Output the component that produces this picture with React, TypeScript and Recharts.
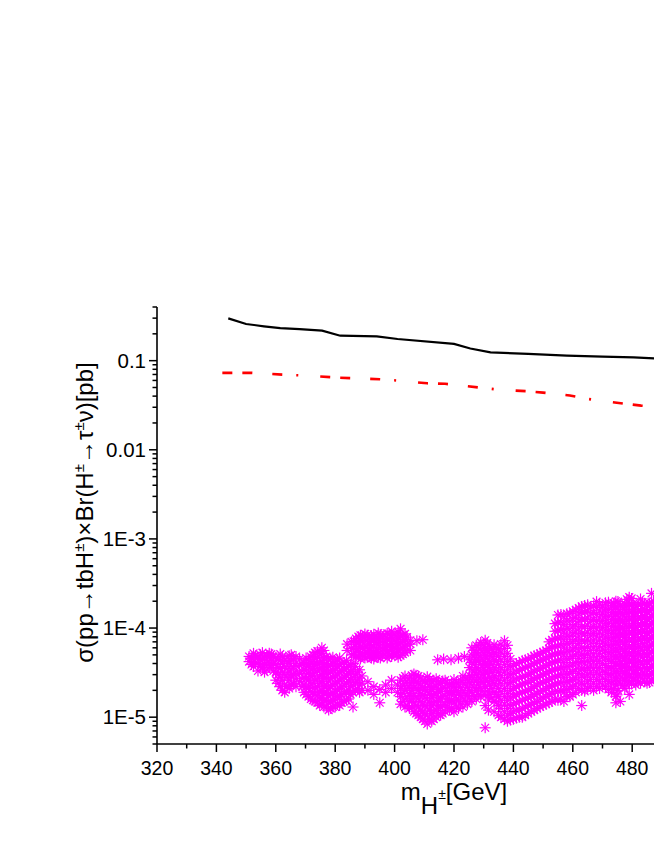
import { ComposedChart, Line, Scatter, XAxis, YAxis } from 'recharts';

const FONT = '"Liberation Sans", Arial, sans-serif';
const MAGENTA = '#ff00ff';

const massTicks = [320, 330, 340, 350, 360, 370, 380, 390, 400, 410, 420, 430, 440, 450, 460, 470, 480, 490, 500, 510, 520];
const massLabelled = [320, 340, 360, 380, 400, 420, 440, 460, 480];
const sigmaMajor = [1e-5, 1e-4, 1e-3, 0.01, 0.1];
const sigmaTicks = [
  5e-6, 6e-6, 7e-6, 8e-6, 9e-6,
  1e-5, 2e-5, 3e-5, 4e-5, 5e-5, 6e-5, 7e-5, 8e-5, 9e-5,
  1e-4, 2e-4, 3e-4, 4e-4, 5e-4, 6e-4, 7e-4, 8e-4, 9e-4,
  1e-3, 2e-3, 3e-3, 4e-3, 5e-3, 6e-3, 7e-3, 8e-3, 9e-3,
  0.01, 0.02, 0.03, 0.04, 0.05, 0.06, 0.07, 0.08, 0.09,
  0.1, 0.2, 0.3, 0.4,
];

// limit curves: [mass GeV, sigma pb]
const solidLimit = [
  [344, 0.298], [350, 0.258], [356, 0.243], [361.5, 0.232], [368, 0.226], [375.6, 0.217],
  [381.7, 0.1905], [394, 0.187], [401, 0.175], [420, 0.154], [425.5, 0.137], [432.3, 0.124],
  [445, 0.119], [458, 0.114], [470, 0.111], [480.5, 0.109], [490, 0.105], [500, 0.103],
];
const dashLimit = [
  [342, 0.073], [352, 0.073], [364, 0.0692], [370, 0.068], [381, 0.0645], [395, 0.0618],
  [402, 0.0595], [411, 0.0557], [417, 0.055], [428, 0.0502], [435, 0.0473], [445, 0.0453],
  [450, 0.0438], [459, 0.0406], [465, 0.0372], [478, 0.0327], [483, 0.0313], [490, 0.0298],
];

// scan points: [mass GeV, sigma values in units of 1E-5 pb]
const cloudA = [
  [351, [4.2, 4.8]], [351.8, [3.9, 4.6]],
  [352.5, [3.7, 4.5, 5.2]], [353.2, [4.1, 4.9]],
  [354, [3.3, 4.0, 4.7]], [354.8, [3.7, 4.4, 5.0]],
  [355.5, [3.6, 4.4, 5.3]], [356.2, [3.2, 3.9, 4.6]],
  [357, [3.4, 4.1, 4.9]], [357.8, [3.6, 4.3, 5.2]],
  [358.5, [3.8, 4.6, 5.1]], [359.2, [3.3, 4.0, 4.8]],
  [360, [2.6, 3.2, 3.9, 4.7]], [360.8, [2.4, 3.0, 3.6, 4.4]],
  [361.5, [2.2, 2.8, 3.5, 4.3, 5.1]], [362.2, [2.0, 2.6, 3.2, 4.0, 4.8]],
  [363, [1.9, 2.3, 3.0, 3.7, 4.5]], [363.8, [2.2, 2.8, 3.5, 4.2]],
  [364.5, [2.1, 2.6, 3.2, 4.0, 4.9]], [365.2, [2.3, 2.9, 3.5, 4.3, 5.0]],
  [366, [2.4, 3.0, 3.7, 4.5]], [366.8, [2.2, 2.7, 3.3, 4.0, 4.8]],
];
const cloudCore = [
  [368, [2.5, 3.1, 3.8, 4.5]], [368.8, [2.2, 2.7, 3.3, 4.0]],
  [369.5, [1.9, 2.3, 2.8, 3.4, 4.1]], [370.2, [1.8, 2.2, 2.7, 3.3, 3.9, 4.6]],
  [371, [1.7, 2.1, 2.6, 3.1, 3.7, 4.4]], [371.8, [1.6, 1.95, 2.35, 2.85, 3.4, 4.0, 4.8]],
  [372.5, [1.55, 1.9, 2.4, 2.9, 3.5, 4.2, 5.0]], [373.2, [1.5, 1.8, 2.15, 2.6, 3.15, 3.75, 4.5, 5.3]],
  [374, [1.45, 1.75, 2.2, 2.7, 3.3, 3.9, 4.7, 5.5]], [374.8, [1.35, 1.6, 1.95, 2.4, 2.9, 3.5, 4.1, 5.0]],
  [375.5, [1.4, 1.65, 2.0, 2.5, 3.0, 3.6, 4.3, 5.2, 6.0]], [376.2, [1.3, 1.55, 1.85, 2.25, 2.75, 3.3, 3.9, 4.6, 5.6]],
  [377, [1.3, 1.55, 1.9, 2.3, 2.8, 3.4, 4.0, 4.8]], [377.8, [1.2, 1.45, 1.75, 2.1, 2.55, 3.1, 3.7, 4.4]],
  [378.5, [1.25, 1.5, 1.8, 2.2, 2.7, 3.2, 3.8, 4.5]], [379.2, [1.3, 1.55, 1.85, 2.3, 2.8, 3.35, 4.0, 4.7]],
  [380, [1.3, 1.6, 1.95, 2.4, 2.9, 3.5, 4.2]], [380.8, [1.4, 1.7, 2.05, 2.5, 3.05, 3.7, 4.4]],
  [381.5, [1.35, 1.7, 2.1, 2.6, 3.2, 3.9, 4.6]], [382.2, [1.45, 1.8, 2.2, 2.7, 3.3, 4.0]],
  [383, [1.5, 1.85, 2.3, 2.8, 3.4, 4.1]], [383.8, [1.55, 1.95, 2.4, 2.95, 3.6, 4.3]],
  [384.5, [1.6, 2.0, 2.5, 3.1, 3.7]], [385.2, [1.8, 2.2, 2.65, 3.25, 3.9]],
  [386, [1.3, 1.9, 2.3, 2.8, 3.4, 4.0]], [386.8, [2.0, 2.45, 3.0, 3.7]],
  [387.5, [2.1, 2.6, 3.2]], [388.2, [1.9, 2.3, 2.75, 3.4]],
  [389, [2.0, 2.4, 2.9]],
  [391, [2.0, 2.5]],
  [393, [1.8, 2.2]],
  [395, [1.45, 2.05]],
  [397, [1.9, 2.3]],
  [399, [2.1, 2.6]],
  [401, [1.9, 2.3]],
];
const cloudUpper = [
  [384, [5.6, 6.6]],
  [385.5, [5.0, 5.9, 7.0]], [386.2, [5.1, 6.0, 7.1]],
  [387, [4.7, 5.5, 6.5, 7.6]], [387.8, [4.8, 5.8, 6.9, 8.0]],
  [388.5, [4.5, 5.3, 6.2, 7.3, 8.3]], [389.2, [5.0, 5.9, 7.0, 8.1]],
  [390, [4.6, 5.4, 6.4, 7.5, 8.6]], [390.8, [4.7, 5.2, 6.1, 7.2, 8.3]],
  [391.5, [4.8, 5.6, 6.6, 7.8]], [392.2, [4.6, 5.1, 6.0, 7.1, 8.2]],
  [393, [4.5, 5.3, 6.3, 7.4, 8.5]], [393.8, [4.9, 5.8, 6.9, 8.1]],
  [394.5, [4.7, 5.5, 6.5, 7.6, 8.8]], [395.2, [4.6, 5.2, 6.1, 7.2, 8.4]],
  [396, [4.9, 5.8, 6.8, 8.0]], [396.8, [5.1, 6.0, 7.1, 8.4]],
  [397.5, [4.6, 5.4, 6.4, 7.5, 8.7]], [398.2, [4.9, 5.6, 6.2, 7.3, 8.5]],
  [399, [4.8, 5.7, 6.7, 7.9, 9.2]], [399.8, [5.2, 6.1, 7.3, 8.6]],
  [400.5, [5.0, 5.9, 7.0, 8.2]], [401.2, [4.7, 5.5, 6.5, 7.7, 9.0]],
  [402, [4.9, 5.8, 6.9, 8.1, 9.8]], [402.8, [5.1, 6.0, 7.1, 8.4]],
  [403.5, [5.3, 6.3, 7.4, 8.6]], [404.2, [5.6, 6.6, 7.9]],
  [405.3, [5.6, 6.6, 7.3]],
  [407.5, [7.2]],
  [409.5, [7.4]],
  [414.5, [4.4]],
  [416.5, [4.5]],
  [419, [4.4]],
  [421.5, [4.6]],
  [423.5, [4.8]],
];
const cloudLow = [
  [402, [1.4, 1.7, 2.1, 2.6]], [402.8, [1.5, 1.85, 2.25, 2.75]],
  [403.5, [1.3, 1.6, 2.0, 2.4, 2.9]], [404.2, [1.35, 1.7, 2.1, 2.55]],
  [405, [1.25, 1.5, 1.85, 2.25, 2.75]], [405.8, [1.3, 1.6, 2.0, 2.45, 2.95]],
  [406.5, [1.15, 1.45, 1.75, 2.15, 2.6, 3.05]], [407.2, [1.1, 1.35, 1.7, 2.1, 2.5, 2.95]],
  [408, [1.05, 1.3, 1.6, 2.0, 2.4, 2.9]], [408.8, [1.0, 1.2, 1.5, 1.85, 2.25, 2.75]],
  [409.5, [0.95, 1.15, 1.4, 1.75, 2.15, 2.6]], [410.2, [0.9, 1.1, 1.35, 1.65, 2.05, 2.5]],
  [411, [0.84, 1.05, 1.3, 1.6, 1.95, 2.4, 2.85]], [411.8, [0.95, 1.2, 1.45, 1.8, 2.2, 2.65]],
  [412.5, [0.9, 1.1, 1.35, 1.65, 2.05, 2.5]], [413.2, [0.95, 1.15, 1.4, 1.75, 2.15, 2.6]],
  [414, [1.0, 1.2, 1.5, 1.85, 2.25, 2.7]], [414.8, [1.1, 1.35, 1.65, 2.05, 2.5]],
  [415.5, [1.05, 1.3, 1.6, 1.95, 2.4]], [416.2, [1.1, 1.35, 1.7, 2.1, 2.55]],
  [417, [1.15, 1.4, 1.75, 2.15, 2.6]], [417.8, [1.3, 1.6, 1.95, 2.4]],
  [418.5, [1.2, 1.5, 1.85, 2.3]], [419.2, [1.25, 1.55, 1.95, 2.4]],
  [420, [1.15, 1.45, 1.8, 2.2, 2.65]], [420.8, [1.3, 1.6, 2.0, 2.45]],
  [421.5, [1.25, 1.55, 1.9, 2.35]], [422.2, [1.4, 1.75, 2.15, 2.6]],
  [423, [1.3, 1.65, 2.0, 2.45, 2.9]], [423.8, [1.5, 1.85, 2.3, 2.75]],
  [424.5, [1.4, 1.75, 2.15, 2.6]], [425.2, [1.6, 2.0, 2.45, 2.95, 3.6, 4.4]],
  [426, [1.5, 1.9, 2.3, 2.8, 3.4, 4.1, 5.0, 6.0]], [426.8, [1.7, 2.15, 2.65, 3.2, 3.9, 4.7, 5.6]],
  [427.5, [1.6, 2.0, 2.5, 3.0, 3.6, 4.4, 5.3, 6.4]], [428.2, [1.8, 2.3, 2.8, 3.4, 4.2, 5.0, 6.1]],
  [429, [1.7, 2.1, 2.6, 3.2, 3.9, 4.7, 5.7, 6.9]], [429.8, [1.95, 2.45, 3.0, 3.6, 4.4, 5.3, 6.5]],
  [430.5, [0.76, 1.35, 1.75, 2.2, 2.7, 3.3, 4.0, 4.9, 5.9, 7.3]], [431.2, [1.95, 2.5, 3.1, 3.8, 4.6, 5.6, 6.8]],
  [431.6, [1.2, 1.56]],
  [432, [1.8, 2.3, 2.8, 3.4, 4.2, 5.1, 6.2]], [432.8, [1.65, 2.1, 2.6, 3.2, 3.9, 4.8, 5.8]],
  [433.5, [1.15, 1.5, 1.9, 2.4, 2.9, 3.6, 4.4, 5.3, 6.5]], [434.2, [1.45, 1.8, 2.25, 2.75, 3.4, 4.2, 5.1, 6.1]],
  [435, [1.05, 1.35, 1.7, 2.1, 2.6, 3.2, 3.9, 4.8, 5.8]], [435.8, [1.0, 1.25, 1.55, 1.95, 2.4, 2.95, 3.6, 4.4, 5.4, 6.6]],
];
const cloudBand = [
  [437, [0.95, 1.15, 1.4, 1.7, 2.1, 2.6, 3.2, 3.9, 4.8, 5.9, 7.2]],
  [438, [0.9, 1.05, 1.25, 1.55, 1.85, 2.3, 2.8, 3.45, 4.2, 5.2, 6.4]],
  [439, [0.93, 1.1, 1.35, 1.65, 2.0, 2.45, 3.0, 3.7, 4.5]],
  [440, [0.95, 1.15, 1.4, 1.7, 2.1, 2.55, 3.1, 3.8]],
  [441, [0.98, 1.2, 1.45, 1.8, 2.2, 2.7, 3.3, 4.0]],
  [442, [1.0, 1.2, 1.5, 1.85, 2.25, 2.75, 3.35, 4.1]],
  [443, [1.0, 1.25, 1.55, 1.9, 2.35, 2.85, 3.5, 4.3]],
  [444, [1.05, 1.3, 1.6, 1.95, 2.4, 2.9, 3.6, 4.4]],
  [445, [1.1, 1.35, 1.65, 2.0, 2.45, 3.0, 3.7, 4.5]],
  [446, [1.15, 1.4, 1.7, 2.1, 2.6, 3.15, 3.85, 4.7]],
  [447, [1.2, 1.45, 1.8, 2.2, 2.7, 3.3, 4.0, 4.9]],
  [448, [1.25, 1.5, 1.85, 2.3, 2.8, 3.4, 4.15, 5.0]],
  [449, [1.3, 1.6, 1.95, 2.4, 2.9, 3.5, 4.3, 5.2]],
  [450, [1.35, 1.65, 2.0, 2.45, 3.0, 3.65, 4.45, 5.4]],
  [451, [1.4, 1.7, 2.1, 2.55, 3.1, 3.8, 4.6, 5.6]],
  [452, [1.45, 1.8, 2.2, 2.65, 3.25, 3.95, 4.8, 5.9, 7.0]],
  [453, [1.5, 1.85, 2.25, 2.75, 3.35, 4.1, 5.0, 6.1, 7.4]],
  [454, [1.6, 1.95, 2.35, 2.85, 3.45, 4.2, 5.1, 6.2, 7.6, 9.2, 11.2]],
  [455, [1.55, 1.95, 2.4, 2.9, 3.5, 4.3, 5.2, 6.3, 7.7, 9.4, 11.5, 14.0]],
  [456, [1.6, 2.0, 2.45, 3.0, 3.6, 4.4, 5.3, 6.5, 7.9, 9.6, 11.7, 14.2]],
  [457, [1.5, 1.9, 2.3, 2.8, 3.4, 4.1, 5.0, 6.1, 7.4, 9.0, 11.0, 13.4]],
  [458, [1.7, 2.05, 2.5, 3.05, 3.7, 4.5, 5.5, 6.7, 8.1, 9.9, 12.0, 14.5]],
  [459, [1.7, 2.1, 2.55, 3.1, 3.75, 4.55, 5.5, 6.7, 8.1, 9.8, 12.0, 14.6]],
  [460, [1.8, 2.2, 2.65, 3.25, 3.95, 4.8, 5.8, 7.1, 8.6, 10.5, 12.7, 15.4]],
  [461, [1.9, 2.3, 2.8, 3.4, 4.1, 5.0, 6.1, 7.4, 9.0, 10.9, 13.2, 16.0]],
];
const cloudRight = [
  [462, [2.1, 2.55, 3.1, 3.75, 4.55, 5.5, 6.7, 8.1, 9.8, 11.9, 14.4, 16.8]],
  [463, [1.35, 2.0, 2.4, 2.9, 3.5, 4.2, 5.0, 6.0, 7.2, 8.7, 10.4, 12.5, 15.0, 17.5]],
  [464, [1.95, 2.3, 2.8, 3.35, 4.05, 4.9, 5.9, 7.1, 8.6, 10.4, 12.6, 15.2, 17.9]],
  [465, [2.1, 2.5, 3.0, 3.6, 4.3, 5.2, 6.2, 7.5, 9.0, 10.8, 13.0, 15.6, 18.2]],
  [466, [2.2, 2.65, 3.2, 3.85, 4.65, 5.6, 6.8, 8.2, 9.9, 11.9, 14.4, 17.2]],
  [467, [2.0, 2.4, 2.9, 3.5, 4.2, 5.0, 6.0, 7.2, 8.7, 10.4, 12.5, 15.0, 17.8]],
  [468, [2.2, 2.65, 3.2, 3.85, 4.6, 5.6, 6.7, 8.1, 9.8, 11.8, 14.2, 17.0, 19.8]],
  [469, [2.1, 2.5, 3.0, 3.6, 4.3, 5.2, 6.2, 7.5, 9.0, 10.8, 13.0, 15.6, 18.5]],
  [470, [2.3, 2.75, 3.3, 4.0, 4.8, 5.8, 7.0, 8.4, 10.1, 12.2, 14.7, 17.6]],
  [471, [2.2, 2.65, 3.2, 3.8, 4.6, 5.5, 6.6, 7.9, 9.5, 11.4, 13.7, 16.4, 19.2]],
  [472, [2.05, 2.5, 3.0, 3.6, 4.4, 5.3, 6.4, 7.7, 9.3, 11.2, 13.5, 16.2, 19.5]],
  [473, [1.9, 2.4, 2.9, 3.5, 4.2, 5.0, 6.0, 7.2, 8.7, 10.4, 12.5, 15.0, 18.0]],
  [473.8, [2.1, 2.55, 3.1, 3.7, 4.5, 5.4, 6.5, 7.8, 9.4, 11.3, 13.6, 16.4, 19.0]],
  [474.5, [1.45, 1.7, 2.3, 2.75, 3.3, 4.0, 4.8, 5.8, 7.0, 8.4, 10.1, 12.1, 14.5, 17.4, 20.0]],
  [474.9, [1.78]],
  [475.2, [2.0, 2.55, 3.1, 3.8, 4.6, 5.5, 6.6, 8.0, 9.6, 11.6, 14.0, 16.8, 19.8]],
  [476, [1.5, 2.4, 2.9, 3.5, 4.2, 5.0, 6.0, 7.2, 8.7, 10.4, 12.5, 15.0, 18.0]],
  [476.8, [2.25, 2.7, 3.25, 3.9, 4.7, 5.7, 6.8, 8.2, 9.9, 11.9, 14.3, 17.3]],
  [477.5, [2.1, 2.6, 3.1, 3.7, 4.5, 5.4, 6.5, 7.8, 9.3, 11.2, 13.4, 16.1, 19.0]],
  [478.2, [2.3, 2.8, 3.35, 4.0, 4.9, 5.9, 7.1, 8.5, 10.3, 12.4, 14.9, 17.9, 21.0]],
  [479, [1.8, 2.5, 3.0, 3.6, 4.3, 5.2, 6.2, 7.5, 9.0, 10.8, 13.0, 15.6, 18.7, 22.2]],
  [479.8, [2.35, 2.8, 3.4, 4.1, 4.9, 5.9, 7.1, 8.6, 10.3, 12.4, 14.9, 17.9, 21.5]],
  [480.5, [2.6, 3.1, 3.7, 4.5, 5.4, 6.5, 7.8, 9.3, 11.2, 13.4, 16.1, 19.0]],
  [481.2, [2.3, 2.8, 3.35, 4.05, 4.85, 5.85, 7.0, 8.5, 10.2, 12.3, 14.8, 17.6]],
  [482, [2.5, 3.0, 3.6, 4.3, 5.2, 6.2, 7.5, 9.0, 10.8, 13.0, 15.6, 18.5]],
  [482.8, [2.4, 2.9, 3.5, 4.2, 5.0, 6.0, 7.3, 8.8, 10.6, 12.7, 15.3, 18.4, 21.2]],
  [483.5, [2.7, 3.2, 3.9, 4.7, 5.6, 6.7, 8.0, 9.6, 11.5, 13.8, 16.5, 19.5]],
  [484.2, [2.5, 3.0, 3.6, 4.3, 5.2, 6.3, 7.6, 9.1, 11.0, 13.2, 15.9, 19.0]],
  [485, [2.4, 2.9, 3.5, 4.2, 5.0, 6.0, 7.2, 8.7, 10.4, 12.5, 15.0, 18.0]],
  [485.8, [2.45, 2.95, 3.55, 4.3, 5.2, 6.2, 7.5, 9.0, 10.8, 13.0, 15.7, 18.8]],
  [486.5, [2.6, 3.1, 3.7, 4.5, 5.4, 6.5, 7.8, 9.3, 11.2, 13.4, 16.1, 19.5, 24.5]],
  [487.2, [2.7, 3.25, 3.9, 4.7, 5.6, 6.8, 8.2, 9.8, 11.8, 14.2, 17.1, 20.0]],
  [488, [2.8, 3.3, 4.0, 4.8, 5.8, 7.0, 8.4, 10.1, 12.1, 14.5, 17.4]],
  [489.5, [3.0, 3.6, 4.3, 5.2, 6.2, 7.5, 9.0, 10.8, 13.0, 15.6]],
];

const toRows = (pts: number[][]) => pts.map(([m, s]) => ({ m, s }));
const scanRows = [cloudA, cloudCore, cloudUpper, cloudLow, cloudBand, cloudRight].flatMap((cloud: any[]) =>
  cloud.flatMap(([m, vals]: [number, number[]]) => vals.map((v) => ({ m, s: v * 1e-5 })))
);

const fmtSigma = (v: number) => (v >= 0.01 ? String(v) : `1E${Math.round(Math.log10(v))}`);

function Asterisk(props: any) {
  const { cx, cy } = props;
  if (cx == null || cy == null) return null;
  const r = 5.5;
  const d = r * 0.7071;
  return (
    <g stroke={MAGENTA} strokeWidth={1.2}>
      <line x1={cx - r} y1={cy} x2={cx + r} y2={cy} />
      <line x1={cx} y1={cy - r} x2={cx} y2={cy + r} />
      <line x1={cx - d} y1={cy - d} x2={cx + d} y2={cy + d} />
      <line x1={cx - d} y1={cy + d} x2={cx + d} y2={cy - d} />
    </g>
  );
}

function BottomTick({ x, y, payload }: any) {
  const major = payload.value % 20 === 0;
  return (
    <g>
      <line x1={x} y1={y} x2={x} y2={y + (major ? 8 : 4.5)} stroke="#000" strokeWidth={1.5} />
      {massLabelled.includes(payload.value) && (
        <text x={x} y={y + 31} textAnchor="middle" fontSize={19.5} fontFamily={FONT} fill="#000">
          {payload.value}
        </text>
      )}
    </g>
  );
}

function TopTick({ x, y, payload }: any) {
  const major = payload.value % 20 === 0;
  return <line x1={x} y1={y} x2={x} y2={y + (major ? 8 : 4.5)} stroke="#000" strokeWidth={1.5} />;
}

function LeftTick({ x, y, payload }: any) {
  const major = sigmaMajor.includes(payload.value);
  return (
    <g>
      <line x1={x - (major ? 8 : 4.5)} y1={y} x2={x} y2={y} stroke="#000" strokeWidth={1.5} />
      {major && (
        <text x={x - 11} y={y + 7} textAnchor="end" fontSize={20.5} fontFamily={FONT} fill="#000">
          {fmtSigma(payload.value)}
        </text>
      )}
    </g>
  );
}

function YTitle(props: any) {
  const vb = props.viewBox || { x: 0, y: 307, width: 157, height: 437 };
  const cx = vb.x + 93;
  const cy = vb.y + vb.height / 2 - 13;
  return (
    <text x={cx} y={cy} transform={`rotate(-90 ${cx} ${cy})`} textAnchor="middle" fontSize={24} fontFamily={FONT} fill="#000">
      <tspan>σ(pp→tbH</tspan>
      <tspan dy={-9} fontSize={15}>±</tspan>
      <tspan dy={9}>)×Br(H</tspan>
      <tspan dy={-9} fontSize={15}>±</tspan>
      <tspan dy={9}>→τ</tspan>
      <tspan dy={-9} fontSize={15}>±</tspan>
      <tspan dy={9}>ν)[pb]</tspan>
    </text>
  );
}

function XTitle(props: any) {
  const vb = props.viewBox || { x: 157, y: 744, width: 594, height: 102 };
  const cx = vb.x + vb.width / 2;
  const cy = vb.y + 56;
  return (
    <text x={cx} y={cy} textAnchor="middle" fontSize={24} fontFamily={FONT} fill="#000">
      <tspan>m</tspan>
      <tspan dy={14}>H</tspan>
      <tspan dy={-15} fontSize={14}>±</tspan>
      <tspan dy={1}>[GeV]</tspan>
    </text>
  );
}

export default function App() {
  return (
    <div style={{ position: 'absolute', left: 0, top: 0, width: 654, height: 846, overflow: 'hidden', background: '#fff' }}>
      <ComposedChart width={760} height={846} margin={{ top: 307, right: 9, bottom: 0, left: 0 }}>
        <XAxis
          dataKey="m"
          type="number"
          domain={[320, 520]}
          ticks={massTicks}
          interval={0}
          allowDataOverflow
          height={102}
          tickSize={0}
          tickMargin={0}
          tick={BottomTick}
          axisLine={{ stroke: '#000', strokeWidth: 1.6 }}
          label={{ content: XTitle }}
        />
        <XAxis
          xAxisId="top"
          orientation="top"
          type="number"
          domain={[320, 520]}
          ticks={massTicks}
          interval={0}
          allowDataOverflow
          height={0}
          tickSize={0}
          tickMargin={0}
          tick={TopTick}
          axisLine={{ stroke: '#000', strokeWidth: 1.6 }}
        />
        <YAxis
          dataKey="s"
          type="number"
          scale="log"
          domain={[5e-6, 0.4]}
          ticks={sigmaTicks}
          interval={0}
          allowDataOverflow
          width={157}
          tickSize={0}
          tickMargin={0}
          tick={LeftTick}
          axisLine={{ stroke: '#000', strokeWidth: 1.6 }}
          label={{ content: YTitle }}
        />
        <Scatter data={scanRows} dataKey="s" shape={Asterisk} isAnimationActive={false} />
        <Line data={toRows(solidLimit)} dataKey="s" stroke="#000" strokeWidth={2.2} dot={false} isAnimationActive={false} />
        <Line
          data={toRows(dashLimit)}
          dataKey="s"
          stroke="#ff0000"
          strokeWidth={2.6}
          strokeDasharray="10 10 10 20 10 14 2 22"
          dot={false}
          isAnimationActive={false}
        />
      </ComposedChart>
    </div>
  );
}
